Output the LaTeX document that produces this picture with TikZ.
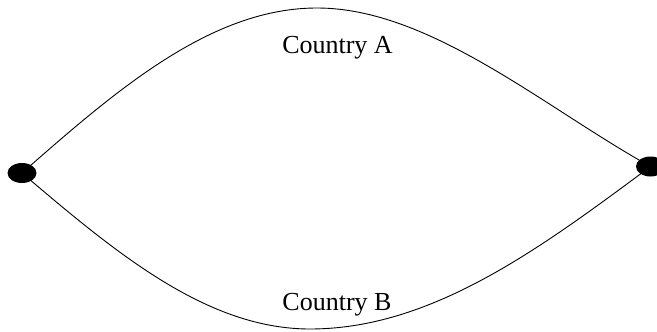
\documentclass[tikz,border=0pt]{standalone}
\usepackage{fontspec}
\setmainfont{Liberation Serif}
\tikzset{
  dot/.style={ellipse, fill=black, draw=none, minimum width=29pt, minimum height=20pt, inner sep=0pt},
  route/.style={draw=black, line width=0.9pt},
  label/.style={font=\fontsize{26}{30}\selectfont, anchor=base, inner sep=0pt}
}
\usetikzlibrary{shapes.geometric}
\begin{document}
\begin{tikzpicture}[x=1pt,y=-1pt]
\useasboundingbox (0,0) rectangle (657,332);
\clip (0,0) rectangle (657,332);
\coordinate (L) at (22,173);
\coordinate (R) at (650.5,166.5);
\coordinate (top) at (317,8);
\coordinate (bot) at (310,329);
\draw[route] (L) .. controls (118,88.5) and (212,8) .. (top)
               .. controls (430,8) and (545,108) .. (R);
\draw[route] (L) .. controls (116,253) and (207,329) .. (bot)
               .. controls (431,329) and (539,249.5) .. (R);
\node[dot] (left) at (L) {};
\node[dot] (right) at (R) {};
\node[label] (ca) at (337.5,53) {Country A};
\node[label] (cb) at (337,310) {Country B};
\end{tikzpicture}
\end{document}
